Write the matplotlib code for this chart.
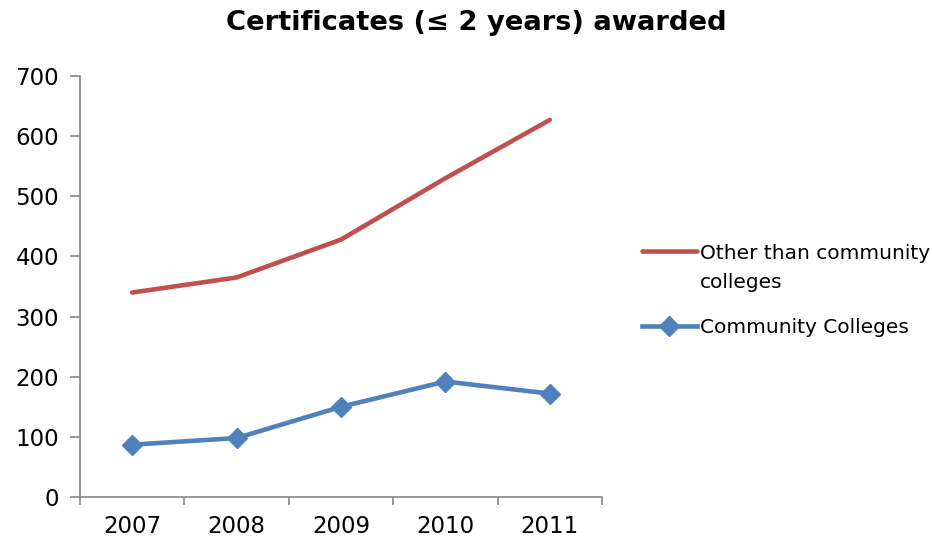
import matplotlib
matplotlib.use("Agg")
import matplotlib.pyplot as plt

# --- data ---
years = ["2007", "2008", "2009", "2010", "2011"]
other_than_cc = [340, 365, 428, 530, 627]
community_colleges = [87, 98, 150, 192, 172]

RED = "#C0504D"
BLUE = "#4F81BD"
AXIS_GRAY = "#868686"

plt.rcParams["font.family"] = ["DejaVu Sans"]

fig = plt.figure(figsize=(9.32, 5.4), dpi=100)
ax = fig.add_axes([80 / 932, 43 / 540, 522 / 932, 421 / 540])

x = list(range(len(years)))
ax.plot(x, other_than_cc, color=RED, lw=3.3, solid_capstyle="round",
        label="Other than community")
ax.plot(x, community_colleges, color=BLUE, lw=3.3, marker="D", markersize=10.5,
        label="Community Colleges")

ax.set_ylim(0, 700)
ax.set_yticks(range(0, 701, 100))
ax.set_xlim(-0.5, len(years) - 0.5)
ax.set_xticks(x)
ax.set_xticklabels(years)
ax.set_xticks([i - 0.5 for i in range(len(years) + 1)], minor=True)

ax.tick_params(axis="x", which="major", length=0, pad=13, labelsize=16.5)
ax.tick_params(axis="x", which="minor", length=6, color=AXIS_GRAY, width=1.2)
ax.tick_params(axis="y", length=7, color=AXIS_GRAY, width=1.2, labelsize=16.5, pad=8)

for side in ["top", "right"]:
    ax.spines[side].set_visible(False)
for side in ["left", "bottom"]:
    ax.spines[side].set_color(AXIS_GRAY)
    ax.spines[side].set_linewidth(1.2)

fig.text(0.511, 0.958, "Certificates (\u2264 2 years) awarded", ha="center", va="center",
         fontsize=19.7, fontweight="bold")

leg = fig.legend(loc="upper left", bbox_to_anchor=(0.689, 0.549), frameon=False,
                 fontsize=14.5, handlelength=2.7, handletextpad=0.15, labelspacing=2.75,
                 borderaxespad=0, borderpad=0)

# second line of the first legend label, placed under its first line
fig.canvas.draw()
bb = leg.get_texts()[0].get_window_extent()
fig.text(bb.x0 / 932, (bb.y0 - 29) / 540, "colleges", ha="left", va="bottom", fontsize=14.5)

fig.savefig("out.png", dpi=100)
